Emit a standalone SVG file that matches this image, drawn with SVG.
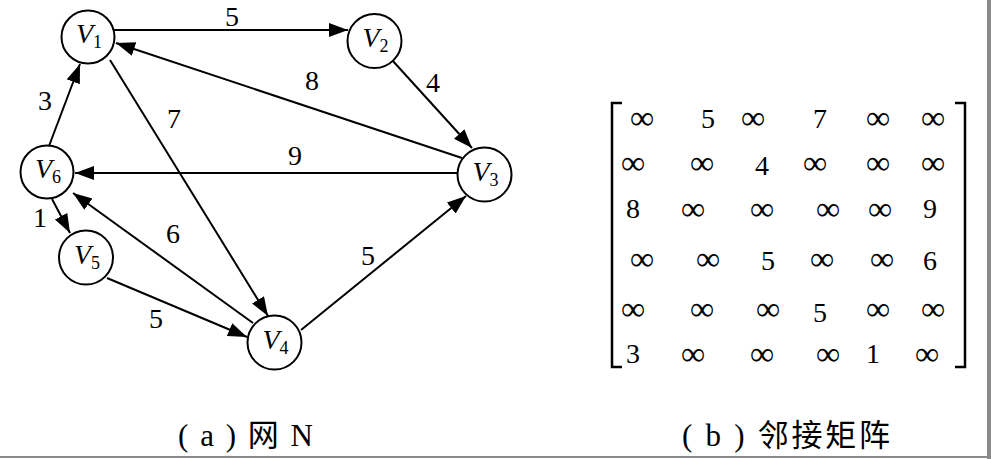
<svg xmlns="http://www.w3.org/2000/svg" width="991" height="459" viewBox="0 0 991 459">
<defs>
<marker id="ah" markerUnits="userSpaceOnUse" markerWidth="20" markerHeight="15" refX="19" refY="7" orient="auto">
<path d="M0,0 L19,7 L0,14 z" fill="#000"/>
</marker>
<style>
.e{stroke:#000;stroke-width:2;fill:none;marker-end:url(#ah)}
.n{fill:#fff;stroke:#000;stroke-width:2}
.v{font-family:'Liberation Serif','Times New Roman','DejaVu Serif',serif;font-style:italic;font-size:28px;fill:#000}
.s{font-style:normal;font-size:18px}
.l{font-family:'Liberation Serif','Times New Roman','DejaVu Serif',serif;font-size:28px;fill:#000;text-anchor:middle}
.d{font-family:'Liberation Serif','Times New Roman','DejaVu Serif',serif;font-size:28px;fill:#000;text-anchor:middle}
.i{font-family:'Liberation Serif','Times New Roman','DejaVu Serif',serif;font-size:34px;fill:#000;text-anchor:middle}
.br{stroke:#000;stroke-width:2.5;fill:none}
.c{font-family:'Liberation Serif','Noto Sans CJK SC',serif;font-size:31px;fill:#000}
</style>
</defs>
<rect width="991" height="459" fill="#fff"/>
<g id="edges">
<line class="e" x1="114" y1="30" x2="348" y2="30"/>
<line class="e" x1="462" y1="158" x2="116" y2="43"/>
<line class="e" x1="392" y1="60" x2="472" y2="148"/>
<line class="e" x1="110" y1="60" x2="268" y2="316"/>
<line class="e" x1="457" y1="173" x2="75" y2="173"/>
<line class="e" x1="49" y1="146" x2="80" y2="64"/>
<line class="e" x1="52" y1="199" x2="70" y2="233"/>
<line class="e" x1="253" y1="323" x2="73" y2="193"/>
<line class="e" x1="107" y1="278" x2="247" y2="337"/>
<line class="e" x1="301" y1="330" x2="466" y2="196"/>
<text class="l" x="232" y="26">5</text>
<text class="l" x="312" y="90">8</text>
<text class="l" x="433" y="92">4</text>
<text class="l" x="174" y="128">7</text>
<text class="l" x="295" y="165">9</text>
<text class="l" x="45" y="110">3</text>
<text class="l" x="40" y="227">1</text>
<text class="l" x="173" y="243">6</text>
<text class="l" x="156" y="328">5</text>
<text class="l" x="368" y="265">5</text>
</g>
<g id="V1"><circle class="n" cx="88" cy="37" r="26.5"/><text class="v" x="76" y="43">V<tspan class="s" dy="5">1</tspan></text></g>
<g id="V2"><circle class="n" cx="374.5" cy="41" r="27"/><text class="v" x="362.5" y="47">V<tspan class="s" dy="5">2</tspan></text></g>
<g id="V3"><circle class="n" cx="484.5" cy="174.5" r="27"/><text class="v" x="472.5" y="180.5">V<tspan class="s" dy="5">3</tspan></text></g>
<g id="V4"><circle class="n" cx="274.5" cy="342.5" r="27"/><text class="v" x="262.5" y="348.5">V<tspan class="s" dy="5">4</tspan></text></g>
<g id="V5"><circle class="n" cx="86" cy="257.5" r="27"/><text class="v" x="74" y="263.5">V<tspan class="s" dy="5">5</tspan></text></g>
<g id="V6"><circle class="n" cx="47" cy="172" r="26.5"/><text class="v" x="35" y="178">V<tspan class="s" dy="5">6</tspan></text></g>
<g id="matrix">
<path class="br" d="M622,103 H612 V367 H622"/>
<path class="br" d="M955,103 H965 V367 H955"/>
<text class="i" x="642" y="129">∞</text><text class="d" x="708" y="128">5</text><text class="i" x="753" y="129">∞</text><text class="d" x="820" y="128">7</text><text class="i" x="878" y="129">∞</text><text class="i" x="933" y="129">∞</text>
<text class="i" x="633" y="174">∞</text><text class="i" x="702" y="174">∞</text><text class="d" x="762" y="175">4</text><text class="i" x="815" y="174">∞</text><text class="i" x="878" y="174">∞</text><text class="i" x="933" y="174">∞</text>
<text class="d" x="633" y="218">8</text><text class="i" x="693" y="220">∞</text><text class="i" x="762" y="220">∞</text><text class="i" x="828" y="220">∞</text><text class="i" x="880" y="220">∞</text><text class="d" x="930" y="218">9</text>
<text class="i" x="642" y="270">∞</text><text class="i" x="708" y="270">∞</text><text class="d" x="768" y="270">5</text><text class="i" x="822" y="270">∞</text><text class="i" x="882" y="270">∞</text><text class="d" x="930" y="270">6</text>
<text class="i" x="633" y="320">∞</text><text class="i" x="702" y="320">∞</text><text class="i" x="768" y="320">∞</text><text class="d" x="820" y="322">5</text><text class="i" x="878" y="320">∞</text><text class="i" x="933" y="320">∞</text>
<text class="d" x="633" y="363">3</text><text class="i" x="693" y="365">∞</text><text class="i" x="762" y="365">∞</text><text class="i" x="828" y="365">∞</text><text class="d" x="873" y="363">1</text><text class="i" x="927" y="365">∞</text>
</g>
<g id="captions">
<text class="c" x="178" y="446" textLength="135" lengthAdjust="spacing">( a ) 网 N</text>
<text class="c" x="682" y="446" textLength="208" lengthAdjust="spacing">( b ) 邻接矩阵</text>
</g>
<g id="border">
<rect x="0" y="456" width="991" height="2" fill="#8a8a8a"/>
<rect x="987" y="0" width="4" height="459" fill="#8a8a8a"/>
</g>
</svg>
